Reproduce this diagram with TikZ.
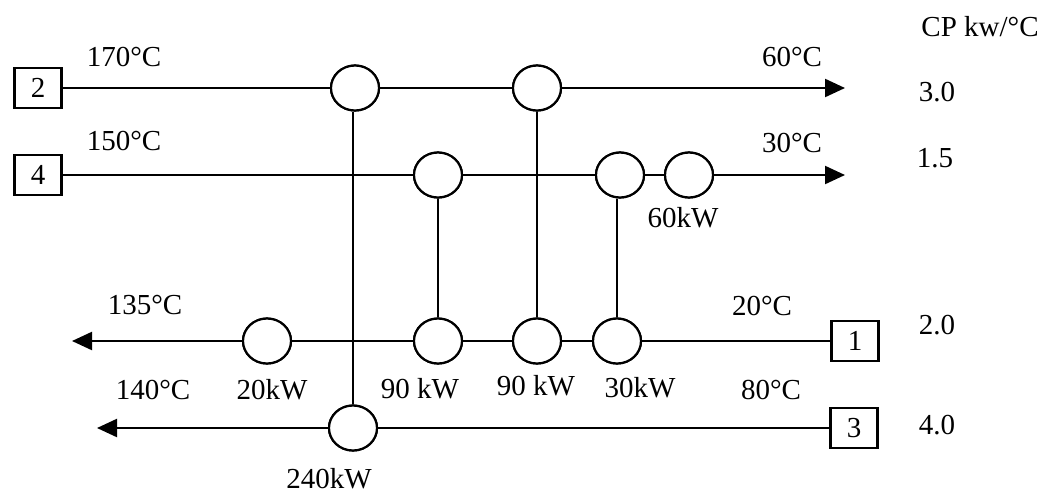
\documentclass[tikz,border=0pt]{standalone}
\usepackage{fontspec}
\setmainfont{Liberation Serif}
\usetikzlibrary{shapes.geometric,arrows.meta}
\begin{document}
\begin{tikzpicture}[x=0.5pt,y=-0.5pt,
  hx/.style={draw,ellipse,minimum width=24pt,minimum height=22.5pt,inner sep=0pt,line width=1.1pt,fill=white},
  sbox/.style={draw,rectangle,minimum width=23.5pt,minimum height=20pt,inner sep=0pt,line width=1.1pt,font=\fontsize{14.5}{17}\selectfont},
  line/.style={line width=1.1pt},
  arr/.style={line width=1.1pt,-{Triangle[length=10pt,width=9pt]}},
  lbl/.style={inner sep=0pt,font=\fontsize{14.5}{17}\selectfont}]
\useasboundingbox (0,0) rectangle (1043,493);
% stream boxes
\node[sbox] (b2) at (38,88) {2};
\node[sbox] (b4) at (38,175) {4};
\node[sbox] (b1) at (855,341) {1};
\node[sbox] (b3) at (854,428) {3};
% end points
\coordinate (e2) at (845,88);
\coordinate (e4) at (845,175);
\coordinate (e1) at (72,341);
\coordinate (e3) at (97,428);
% exchangers
\node[hx] (h21) at (355,88) {};
\node[hx] (h22) at (537,88) {};
\node[hx] (h41) at (438,175) {};
\node[hx] (h42) at (620,175) {};
\node[hx] (c60) at (689,175) {};
\node[hx] (h11) at (267,341) {};
\node[hx] (h12) at (438,341) {};
\node[hx] (h13) at (537,341) {};
\node[hx] (h14) at (617,341) {};
\node[hx] (h31) at (353,428) {};
% vertical matches
\draw[line] (h21.south -| h31) -- (h31);
\draw[line] (h22) -- (h13);
\draw[line] (h41) -- (h12);
\draw[line] (h42.south -| h14) -- (h14);
% streams
\draw[line] (b2) -- (h21);
\draw[line] (h21) -- (h22);
\draw[arr] (h22) -- (e2);
\draw[line] (b4) -- (h41);
\draw[line] (h41) -- (h42);
\draw[line] (h42) -- (c60);
\draw[arr] (c60) -- (e4);
\draw[line] (b1) -- (h14);
\draw[line] (h14) -- (h13);
\draw[line] (h13) -- (h12);
\draw[line] (h12) -- (h11);
\draw[arr] (h11) -- (e1);
\draw[line] (b3) -- (h31);
\draw[arr] (h31) -- (e3);
% redraw exchangers on top
\foreach \n in {h21,h22,h41,h42,c60,h11,h12,h13,h14,h31}{\node[hx] at (\n) {};}
% labels
\node[lbl] (t170) at (124,57) {170°C};
\node[lbl] (t150) at (124,141) {150°C};
\node[lbl] (t60) at (792,57) {60°C};
\node[lbl] (t30) at (792,143) {30°C};
\node[lbl] (tcp) at (980,27) {CP kw/°C};
\node[lbl] (t30v) at (937,92) {3.0};
\node[lbl] (t15v) at (935,158) {1.5};
\node[lbl] (t60kw) at (683,218) {60kW};
\node[lbl] (t135) at (145,305) {135°C};
\node[lbl] (t140) at (153,390) {140°C};
\node[lbl] (t20kw) at (272,390) {20kW};
\node[lbl] (t90a) at (420,389) {90 kW};
\node[lbl] (t90b) at (536,386) {90 kW};
\node[lbl] (t30kw) at (640,388) {30kW};
\node[lbl] (t20) at (762,306) {20°C};
\node[lbl] (t80) at (771,390) {80°C};
\node[lbl] (t20v) at (937,325) {2.0};
\node[lbl] (t40v) at (937,425) {4.0};
\node[lbl] (t240) at (329,479) {240kW};
\end{tikzpicture}
\end{document}
